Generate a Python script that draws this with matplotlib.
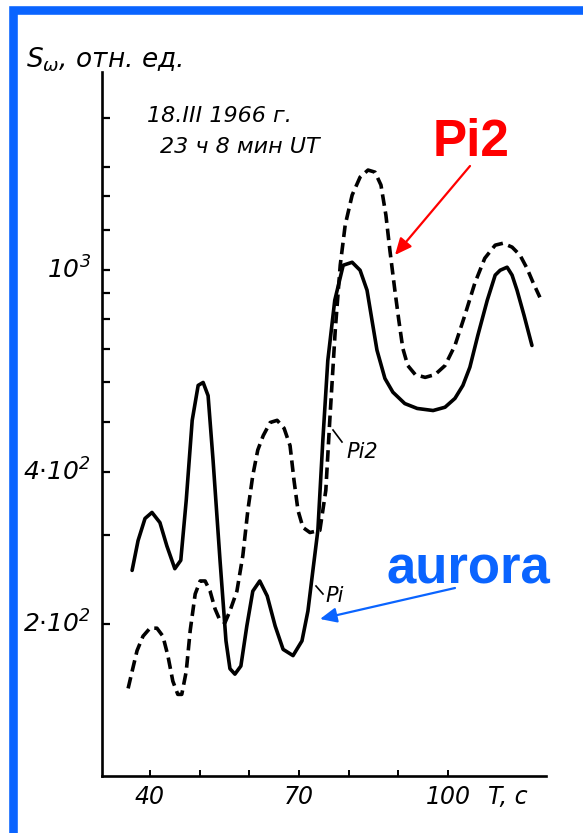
import matplotlib
matplotlib.use("Agg")
import matplotlib.pyplot as plt
from matplotlib.patches import Rectangle

# ---------------- data ----------------
# solid curve (Pi / aurora)
t_solid = [36.4, 37.6, 39.0, 40.4, 42.0, 43.4, 45.0, 46.2, 47.3, 48.5, 49.7, 50.7,
           51.7, 52.7, 54.1, 55.3, 56.1, 57.1, 58.3, 59.5, 60.7, 62.1, 63.6, 65.2,
           66.8, 68.8, 70.6, 71.8, 72.8, 73.8, 74.8, 75.8, 77.2, 78.9, 80.7, 82.3,
           83.7, 84.7, 85.7, 87.3, 88.9, 91.3, 93.8, 97.0, 99.4, 101.4, 103.0, 104.4,
           106.0, 107.9, 109.5, 110.5, 111.9, 112.9, 113.9, 115.3, 116.9]
s_solid = [255, 292, 323, 332, 317, 285, 257, 267, 351, 505, 592, 600,
           565, 421, 267, 185, 163, 159, 165, 198, 232, 243, 227, 198,
           178, 173, 185, 212, 255, 306, 461, 663, 872, 1023, 1037, 1000,
           913, 796, 695, 611, 574, 545, 533, 528, 536, 558, 592, 643,
           743, 872, 978, 1000, 1014, 978, 913, 815, 710]

# dashed curve (Pi2)
t_dash = [35.6, 36.4, 37.4, 38.6, 40.0, 41.4, 42.6, 43.6, 44.6, 45.6, 46.4, 47.3,
          48.1, 49.1, 50.1, 51.1, 52.1, 53.1, 54.1, 55.1, 56.1, 57.5, 58.7, 59.7,
          60.7, 61.7, 62.8, 64.2, 65.6, 67.0, 68.2, 69.0, 69.8, 70.8, 72.2, 74.2,
          75.4, 76.2, 77.3, 78.3, 79.3, 80.7, 82.3, 83.9, 85.3, 86.5, 87.5, 88.3,
          89.3, 90.1, 90.9, 91.9, 93.4, 95.4, 97.4, 99.4, 101.4, 103.4, 105.4,
          107.4, 109.5, 111.1, 112.9, 114.5, 115.9, 117.1, 118.5]
s_dash = [149, 161, 177, 189, 196, 196, 189, 173, 154, 145, 145, 161,
          194, 229, 243, 243, 232, 214, 203, 201, 212, 232, 273, 335,
          393, 441, 471, 500, 505, 487, 450, 384, 335, 310, 303, 306,
          367, 505, 761, 1023, 1228, 1408, 1528, 1578, 1563, 1474, 1285, 1095,
          913, 796, 701, 648, 622, 614, 622, 648, 710, 815, 943,
          1056, 1121, 1131, 1111, 1071, 1009, 947, 884]

x_ticks = [40, 50, 60, 70, 80, 90, 100]
x_ticklabels = ["40", "", "", "70", "", "", "100"]
y_ticks = [200, 300, 400, 500, 600, 700, 800, 900, 1000, 1200, 1400, 1600, 2000]
y_label_vals = [1000, 400, 200]
y_label_txt = [r"$10^{3}$", r"$4{\cdot}10^{2}$", r"$2{\cdot}10^{2}$"]

# ---------------- figure ----------------
W, H = 583, 833
plt.rcParams["font.family"] = ["DejaVu Sans"]
plt.rcParams["mathtext.fontset"] = "custom"
plt.rcParams["mathtext.rm"] = "DejaVu Sans:italic"
plt.rcParams["mathtext.it"] = "DejaVu Sans:italic"
plt.rcParams["mathtext.bf"] = "DejaVu Sans:bold"
fig = plt.figure(figsize=(W / 100, H / 100), dpi=100)
fig.patch.set_facecolor("white")


def fp(px, py):
    return (px / W, 1 - py / H)


ax_l, ax_r, ax_t, ax_b = 102, 546, 72, 776
ax = fig.add_axes([ax_l / W, 1 - ax_b / H, (ax_r - ax_l) / W, (ax_b - ax_t) / H])
ax.set_yscale("log")
ax.set_xlim(30.34, 119.73)
ax.set_ylim(100, 2466)

ax.plot(t_solid, s_solid, color="black", lw=2.6, solid_capstyle="round",
        solid_joinstyle="round")
ax.plot(t_dash, s_dash, color="black", lw=2.6, linestyle=(0, (3.2, 1.6)),
        dash_capstyle="butt", dash_joinstyle="round")

for side in ["top", "right"]:
    ax.spines[side].set_visible(False)
for side in ["left", "bottom"]:
    ax.spines[side].set_linewidth(1.9)
    ax.spines[side].set_color("black")

ax.set_xticks(x_ticks)
ax.set_xticklabels(["" for _ in x_ticks])
ax.set_yticks(y_ticks)
ax.set_yticklabels(["" for _ in y_ticks])
ax.yaxis.set_minor_locator(matplotlib.ticker.NullLocator())
ax.tick_params(axis="y", direction="in", length=6, width=1.6, colors="black")
ax.tick_params(axis="x", direction="in", length=4, width=1.4, colors="black")
ax.set_facecolor("none")

# y tick labels
lab_fs = 17
for v, txt in zip(y_label_vals, y_label_txt):
    ax.text(-0.025, v, txt, transform=ax.get_yaxis_transform(), ha="right",
            va="center", fontsize=lab_fs + 1)
# x tick labels
for v, txt in zip(x_ticks, x_ticklabels):
    if txt:
        ax.text(v, -0.03, txt, transform=ax.get_xaxis_transform(), ha="center",
                va="center", fontsize=lab_fs, style="italic")
fig.text(*fp(488, 797), "T, с", ha="left", va="center", fontsize=lab_fs,
         style="italic")

# axis title
fig.text(*fp(26, 67), r"$S_{\omega}$, отн. ед.", ha="left", va="baseline",
         fontsize=19, style="italic")

# date text
fig.text(*fp(147, 116), "18.III 1966 г.", ha="left", va="center", fontsize=16,
         style="italic")
fig.text(*fp(160, 147), "23 ч 8 мин UT", ha="left", va="center", fontsize=16,
         style="italic")

# handwritten curve labels
fig.text(*fp(346, 452), "Pi2", ha="left", va="center", fontsize=15, style="italic")
fig.text(*fp(325, 596), "Pi", ha="left", va="center", fontsize=15, style="italic")
fig.add_artist(plt.Line2D([333 / W, 342 / W], [1 - 430 / H, 1 - 442 / H],
                          color="black", lw=1.2))
fig.add_artist(plt.Line2D([316 / W, 323 / W], [1 - 586 / H, 1 - 594 / H],
                          color="black", lw=1.2))

# colored annotations
red = "#ff0000"
blue = "#0a64ff"
fig.text(*fp(471, 142), "Pi2", ha="center", va="center", fontsize=37,
         fontweight="bold", color=red, family="Liberation Sans")
ax.annotate("", xy=fp(395, 255), xytext=fp(470, 166), xycoords="figure fraction",
            textcoords="figure fraction",
            arrowprops=dict(arrowstyle="-|>,head_length=1.0,head_width=0.45",
                            color=red, lw=1.6, shrinkA=0, shrinkB=0))
fig.text(*fp(468, 570), "aurora", ha="center", va="center", fontsize=38,
         fontweight="bold", color=blue, family="Liberation Sans")
ax.annotate("", xy=fp(320, 619), xytext=fp(455, 588), xycoords="figure fraction",
            textcoords="figure fraction",
            arrowprops=dict(arrowstyle="-|>,head_length=1.0,head_width=0.45",
                            color=blue, lw=1.6, shrinkA=0, shrinkB=0))

# blue frame
fig.add_artist(Rectangle((12.5 / W, 1 - 834.5 / H), (590 - 12.5) / W,
                         (834.5 - 10) / H, transform=fig.transFigure,
                         fill=False, edgecolor=blue, lw=6.2, clip_on=False))

fig.savefig("out.png", dpi=100, facecolor="white")
